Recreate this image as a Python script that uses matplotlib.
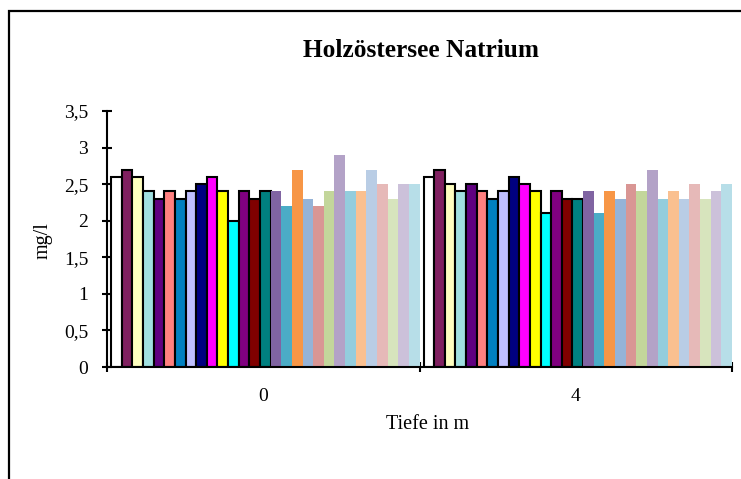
import matplotlib.pyplot as plt
from matplotlib.patches import Rectangle

plt.rcParams['font.family'] = ['Liberation Serif', 'DejaVu Serif']

# depth groups (x categories)
depths = ["0", "4"]

# Na values (mg/l) per sample series, one value per depth
series_values = [
    [2.6, 2.6], [2.7, 2.7], [2.6, 2.5], [2.4, 2.4], [2.3, 2.5],
    [2.4, 2.4], [2.3, 2.3], [2.4, 2.4], [2.5, 2.6], [2.6, 2.5],
    [2.4, 2.4], [2.0, 2.1], [2.4, 2.4], [2.3, 2.3], [2.4, 2.3],
    [2.4, 2.4], [2.2, 2.1], [2.7, 2.4], [2.3, 2.3], [2.2, 2.5],
    [2.4, 2.4], [2.9, 2.7], [2.4, 2.3], [2.4, 2.4], [2.7, 2.3],
    [2.5, 2.5], [2.3, 2.3], [2.5, 2.4], [2.5, 2.5],
]

series_colors = [
    "#FFFFFF", "#802060", "#FFFFC0", "#A0E0E0", "#600080",
    "#FF8080", "#0080C0", "#C0C0FF", "#000080", "#FF00FF",
    "#FFFF00", "#00FFFF", "#800080", "#800000", "#008080",
    "#8064A2", "#4BACC6", "#F79646", "#95B3D7", "#D99694",
    "#C3D69B", "#B3A2C7", "#93CDDD", "#FAC090", "#B9CDE5",
    "#E6B9B8", "#D7E4BD", "#CCC1DA", "#B7DEE8",
]
n_bordered = 15  # the first 15 series carry a black outline

yticks = [0, 0.5, 1, 1.5, 2, 2.5, 3, 3.5]

fig = plt.figure(figsize=(7.41, 4.79), dpi=100, facecolor="white")
ax = fig.add_axes([0.1444, 0.2338, 0.8435, 0.5345])

# outer chart frame (cut off on the right and bottom)
fig.patches.append(Rectangle((9 / 741, -0.2), 1.2, (479 - 11) / 479 + 0.2,
                             transform=fig.transFigure, fill=False,
                             edgecolor="black", linewidth=1.6))

n = len(series_values)
lead = 0.013
w = (1 - lead) / n
for k, (vals, col) in enumerate(zip(series_values, series_colors)):
    xs = [g + lead + k * w for g in range(len(depths))]
    if k < n_bordered:
        ax.bar(xs, vals, width=w, align="edge", color=col,
               edgecolor="black", linewidth=1.5, zorder=2)
    else:
        ax.bar(xs, vals, width=w, align="edge", color=col,
               edgecolor="none", linewidth=0, zorder=2)

ax.set_xlim(0, len(depths))
ax.set_ylim(0, 3.5)

ax.set_yticks(yticks)
ax.set_yticklabels([f"{t:g}".replace(".", ",") for t in yticks])
ax.set_xticks(range(len(depths) + 1))
ax.set_xticklabels([])
ax.set_xticks([g + 0.5 for g in range(len(depths))], minor=True)
ax.set_xticklabels(depths, minor=True)

ax.tick_params(axis="y", direction="inout", length=7, width=1.5,
               labelsize=14, pad=10)
ax.tick_params(axis="x", which="major", direction="inout", length=7,
               width=1.5)
ax.tick_params(axis="x", which="minor", length=0, labelsize=14, pad=15)

for side in ("top", "right"):
    ax.spines[side].set_visible(False)
for side in ("left", "bottom"):
    ax.spines[side].set_linewidth(1.5)
    ax.spines[side].set_zorder(3)

fig.text(421 / 741, (479 - 57) / 479, "Holzöstersee Natrium",
         ha="center", va="baseline", fontsize=18.3, fontweight="bold")
fig.text(43 / 741, (479 - 241) / 479, "mg/l", ha="center", va="center",
         rotation=90, fontsize=14.5)
fig.text(428 / 741, (479 - 429) / 479, "Tiefe in m", ha="center",
         va="baseline", fontsize=14.5)

fig.savefig("out.png", dpi=100, facecolor="white")
